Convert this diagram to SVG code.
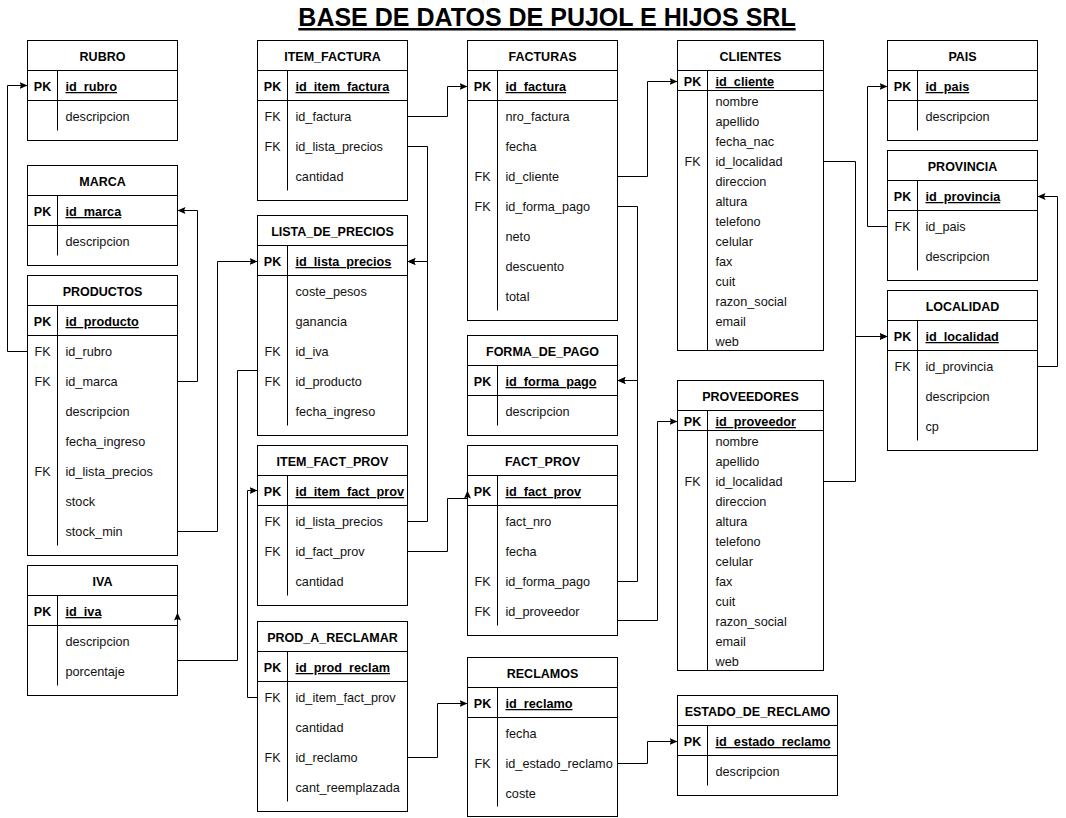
<svg xmlns="http://www.w3.org/2000/svg" width="1066" height="818" viewBox="0 0 1066 818">
<style>
.box{fill:#fff;stroke:#000;stroke-width:1}
.ln{stroke:#000;stroke-width:1;fill:none}
.c{fill:none;stroke:#000;stroke-width:1}
text{font-family:"Liberation Sans",Arial,sans-serif;fill:#000}
.h{font-size:12.5px;font-weight:bold;text-anchor:middle}
.k{font-size:12.5px;font-weight:bold;text-anchor:middle}
.f{font-size:12.5px;text-anchor:middle;fill:#111}
.p{font-size:12.7px;font-weight:bold;text-decoration:underline}
.a{font-size:12.7px;fill:#111}
.t{font-size:25px;font-weight:bold;text-anchor:middle;text-decoration:underline}
</style>
<defs>
<marker id="arr" markerWidth="9" markerHeight="8" refX="8" refY="4" orient="auto" markerUnits="userSpaceOnUse">
<path d="M0,0.5 L8,4 L0,7.5 L1.5,4 z" fill="#000"/>
</marker>
</defs>
<rect x="0" y="0" width="1066" height="818" fill="#fff"/>
<text class="t" x="547" y="26">BASE DE DATOS DE PUJOL E HIJOS SRL</text>
<g transform="translate(0.5 0)">

<g id="rubro">
<rect class="box" x="27" y="40.5" width="150" height="100"/>
<path class="ln" d="M27,70.5 H177 M27,100.5 H177 M57,70.5 V130.5"/>
<text class="h" x="102" y="61">RUBRO</text>
<text class="k" x="42" y="91">PK</text><text class="p" x="65" y="91">id_rubro</text>
<text class="a" x="65" y="121">descripcion</text>
</g>

<g id="marca">
<rect class="box" x="27" y="165.5" width="150" height="100"/>
<path class="ln" d="M27,195.5 H177 M27,225.5 H177 M57,195.5 V255.5"/>
<text class="h" x="102" y="186">MARCA</text>
<text class="k" x="42" y="216">PK</text><text class="p" x="65" y="216">id_marca</text>
<text class="a" x="65" y="246">descripcion</text>
</g>

<g id="productos">
<rect class="box" x="27" y="275.5" width="150" height="280"/>
<path class="ln" d="M27,305.5 H177 M27,335.5 H177 M57,305.5 V545.5"/>
<text class="h" x="102" y="296">PRODUCTOS</text>
<text class="k" x="42" y="326">PK</text><text class="p" x="65" y="326">id_producto</text>
<text class="f" x="42" y="356">FK</text><text class="a" x="65" y="356">id_rubro</text>
<text class="f" x="42" y="386">FK</text><text class="a" x="65" y="386">id_marca</text>
<text class="a" x="65" y="416">descripcion</text>
<text class="a" x="65" y="446">fecha_ingreso</text>
<text class="f" x="42" y="476">FK</text><text class="a" x="65" y="476">id_lista_precios</text>
<text class="a" x="65" y="506">stock</text>
<text class="a" x="65" y="536">stock_min</text>
</g>

<g id="iva">
<rect class="box" x="27" y="565.5" width="150" height="130"/>
<path class="ln" d="M27,595.5 H177 M27,625.5 H177 M57,595.5 V685.5"/>
<text class="h" x="102" y="586">IVA</text>
<text class="k" x="42" y="616">PK</text><text class="p" x="65" y="616">id_iva</text>
<text class="a" x="65" y="646">descripcion</text>
<text class="a" x="65" y="676">porcentaje</text>
</g>

<g id="item_factura">
<rect class="box" x="257" y="40.5" width="150" height="160"/>
<path class="ln" d="M257,70.5 H407 M257,100.5 H407 M287,70.5 V190.5"/>
<text class="h" x="332" y="61">ITEM_FACTURA</text>
<text class="k" x="272" y="91">PK</text><text class="p" x="295" y="91">id_item_factura</text>
<text class="f" x="272" y="121">FK</text><text class="a" x="295" y="121">id_factura</text>
<text class="f" x="272" y="151">FK</text><text class="a" x="295" y="151">id_lista_precios</text>
<text class="a" x="295" y="181">cantidad</text>
</g>

<g id="lista_de_precios">
<rect class="box" x="257" y="215.5" width="150" height="220"/>
<path class="ln" d="M257,245.5 H407 M257,275.5 H407 M287,245.5 V425.5"/>
<text class="h" x="332" y="236">LISTA_DE_PRECIOS</text>
<text class="k" x="272" y="266">PK</text><text class="p" x="295" y="266">id_lista_precios</text>
<text class="a" x="295" y="296">coste_pesos</text>
<text class="a" x="295" y="326">ganancia</text>
<text class="f" x="272" y="356">FK</text><text class="a" x="295" y="356">id_iva</text>
<text class="f" x="272" y="386">FK</text><text class="a" x="295" y="386">id_producto</text>
<text class="a" x="295" y="416">fecha_ingreso</text>
</g>

<g id="item_fact_prov">
<rect class="box" x="257" y="445.5" width="150" height="160"/>
<path class="ln" d="M257,475.5 H407 M257,505.5 H407 M287,475.5 V595.5"/>
<text class="h" x="332" y="466">ITEM_FACT_PROV</text>
<text class="k" x="272" y="496">PK</text><text class="p" x="295" y="496">id_item_fact_prov</text>
<text class="f" x="272" y="526">FK</text><text class="a" x="295" y="526">id_lista_precios</text>
<text class="f" x="272" y="556">FK</text><text class="a" x="295" y="556">id_fact_prov</text>
<text class="a" x="295" y="586">cantidad</text>
</g>

<g id="prod_a_reclamar">
<rect class="box" x="257" y="621.5" width="150" height="190"/>
<path class="ln" d="M257,651.5 H407 M257,681.5 H407 M287,651.5 V801.5"/>
<text class="h" x="332" y="642">PROD_A_RECLAMAR</text>
<text class="k" x="272" y="672">PK</text><text class="p" x="295" y="672">id_prod_reclam</text>
<text class="f" x="272" y="702">FK</text><text class="a" x="295" y="702">id_item_fact_prov</text>
<text class="a" x="295" y="732">cantidad</text>
<text class="f" x="272" y="762">FK</text><text class="a" x="295" y="762">id_reclamo</text>
<text class="a" x="295" y="792">cant_reemplazada</text>
</g>

<g id="facturas">
<rect class="box" x="467" y="40.5" width="150" height="280"/>
<path class="ln" d="M467,70.5 H617 M467,100.5 H617 M497,70.5 V310.5"/>
<text class="h" x="542" y="61">FACTURAS</text>
<text class="k" x="482" y="91">PK</text><text class="p" x="505" y="91">id_factura</text>
<text class="a" x="505" y="121">nro_factura</text>
<text class="a" x="505" y="151">fecha</text>
<text class="f" x="482" y="181">FK</text><text class="a" x="505" y="181">id_cliente</text>
<text class="f" x="482" y="211">FK</text><text class="a" x="505" y="211">id_forma_pago</text>
<text class="a" x="505" y="241">neto</text>
<text class="a" x="505" y="271">descuento</text>
<text class="a" x="505" y="301">total</text>
</g>

<g id="forma_de_pago">
<rect class="box" x="467" y="335.5" width="150" height="100"/>
<path class="ln" d="M467,365.5 H617 M467,395.5 H617 M497,365.5 V425.5"/>
<text class="h" x="542" y="356">FORMA_DE_PAGO</text>
<text class="k" x="482" y="386">PK</text><text class="p" x="505" y="386">id_forma_pago</text>
<text class="a" x="505" y="416">descripcion</text>
</g>

<g id="fact_prov">
<rect class="box" x="467" y="445.5" width="150" height="190"/>
<path class="ln" d="M467,475.5 H617 M467,505.5 H617 M497,475.5 V625.5"/>
<text class="h" x="542" y="466">FACT_PROV</text>
<text class="k" x="482" y="496">PK</text><text class="p" x="505" y="496">id_fact_prov</text>
<text class="a" x="505" y="526">fact_nro</text>
<text class="a" x="505" y="556">fecha</text>
<text class="f" x="482" y="586">FK</text><text class="a" x="505" y="586">id_forma_pago</text>
<text class="f" x="482" y="616">FK</text><text class="a" x="505" y="616">id_proveedor</text>
</g>

<g id="reclamos">
<rect class="box" x="467" y="657.5" width="150" height="159"/>
<path class="ln" d="M467,687.5 H617 M467,717.5 H617 M497,687.5 V806.5"/>
<text class="h" x="542" y="678">RECLAMOS</text>
<text class="k" x="482" y="708">PK</text><text class="p" x="505" y="708">id_reclamo</text>
<text class="a" x="505" y="738">fecha</text>
<text class="f" x="482" y="768">FK</text><text class="a" x="505" y="768">id_estado_reclamo</text>
<text class="a" x="505" y="798">coste</text>
</g>

<g id="clientes">
<rect class="box" x="677" y="40.5" width="146" height="310"/>
<path class="ln" d="M677,70.5 H823 M677,90.5 H823 M707,70.5 V350.5"/>
<text class="h" x="750" y="61">CLIENTES</text>
<text class="k" x="692" y="86">PK</text><text class="p" x="715" y="86">id_cliente</text>
<text class="a" x="715" y="105.5">nombre</text>
<text class="a" x="715" y="125.5">apellido</text>
<text class="a" x="715" y="145.5">fecha_nac</text>
<text class="f" x="692" y="165.5">FK</text><text class="a" x="715" y="165.5">id_localidad</text>
<text class="a" x="715" y="185.5">direccion</text>
<text class="a" x="715" y="205.5">altura</text>
<text class="a" x="715" y="225.5">telefono</text>
<text class="a" x="715" y="245.5">celular</text>
<text class="a" x="715" y="265.5">fax</text>
<text class="a" x="715" y="285.5">cuit</text>
<text class="a" x="715" y="305.5">razon_social</text>
<text class="a" x="715" y="325.5">email</text>
<text class="a" x="715" y="345.5">web</text>
</g>

<g id="proveedores">
<rect class="box" x="677" y="380.5" width="146" height="290"/>
<path class="ln" d="M677,410.5 H823 M677,430.5 H823 M707,410.5 V670.5"/>
<text class="h" x="750" y="401">PROVEEDORES</text>
<text class="k" x="692" y="426">PK</text><text class="p" x="715" y="426">id_proveedor</text>
<text class="a" x="715" y="445.5">nombre</text>
<text class="a" x="715" y="465.5">apellido</text>
<text class="f" x="692" y="485.5">FK</text><text class="a" x="715" y="485.5">id_localidad</text>
<text class="a" x="715" y="505.5">direccion</text>
<text class="a" x="715" y="525.5">altura</text>
<text class="a" x="715" y="545.5">telefono</text>
<text class="a" x="715" y="565.5">celular</text>
<text class="a" x="715" y="585.5">fax</text>
<text class="a" x="715" y="605.5">cuit</text>
<text class="a" x="715" y="625.5">razon_social</text>
<text class="a" x="715" y="645.5">email</text>
<text class="a" x="715" y="665.5">web</text>
</g>

<g id="estado_de_reclamo">
<rect class="box" x="677" y="695.5" width="160" height="100"/>
<path class="ln" d="M677,725.5 H837 M677,755.5 H837 M707,725.5 V785.5"/>
<text class="h" x="757" y="716">ESTADO_DE_RECLAMO</text>
<text class="k" x="692" y="746">PK</text><text class="p" x="715" y="746">id_estado_reclamo</text>
<text class="a" x="715" y="776">descripcion</text>
</g>

<g id="pais">
<rect class="box" x="887" y="40.5" width="150" height="100"/>
<path class="ln" d="M887,70.5 H1037 M887,100.5 H1037 M917,70.5 V130.5"/>
<text class="h" x="962" y="61">PAIS</text>
<text class="k" x="902" y="91">PK</text><text class="p" x="925" y="91">id_pais</text>
<text class="a" x="925" y="121">descripcion</text>
</g>

<g id="provincia">
<rect class="box" x="887" y="150.5" width="150" height="130"/>
<path class="ln" d="M887,180.5 H1037 M887,210.5 H1037 M917,180.5 V270.5"/>
<text class="h" x="962" y="171">PROVINCIA</text>
<text class="k" x="902" y="201">PK</text><text class="p" x="925" y="201">id_provincia</text>
<text class="f" x="902" y="231">FK</text><text class="a" x="925" y="231">id_pais</text>
<text class="a" x="925" y="261">descripcion</text>
</g>

<g id="localidad">
<rect class="box" x="887" y="290.5" width="150" height="160"/>
<path class="ln" d="M887,320.5 H1037 M887,350.5 H1037 M917,320.5 V440.5"/>
<text class="h" x="962" y="311">LOCALIDAD</text>
<text class="k" x="902" y="341">PK</text><text class="p" x="925" y="341">id_localidad</text>
<text class="f" x="902" y="371">FK</text><text class="a" x="925" y="371">id_provincia</text>
<text class="a" x="925" y="401">descripcion</text>
<text class="a" x="925" y="431">cp</text>
</g>

<g id="connectors" transform="translate(0 0.5)">
<path class="c" marker-end="url(#arr)" d="M27,351 H7 V85 H27"/>
<path class="c" marker-end="url(#arr)" d="M177,381 H197 V210 H177"/>
<path class="c" marker-end="url(#arr)" d="M177,531 H217 V261 H257"/>
<path class="c" marker-end="url(#arr)" d="M257,370 H237 V660 H177 V612"/>
<path class="c" marker-end="url(#arr)" d="M407,116 H447 V86 H467"/>
<path class="c" marker-end="url(#arr)" d="M407,146 H427 V261 H407"/>
<path class="c" marker-end="url(#arr)" d="M407,521 H427 V261 H407"/>
<path class="c" marker-end="url(#arr)" d="M407,551 H447 V498 H467 V490"/>
<path class="c" marker-end="url(#arr)" d="M257,697 H247 V490 H257"/>
<path class="c" marker-end="url(#arr)" d="M407,757 H437 V703 H467"/>
<path class="c" marker-end="url(#arr)" d="M617,176 H647 V81 H677"/>
<path class="c" marker-end="url(#arr)" d="M617,206 H637 V380 H617"/>
<path class="c" marker-end="url(#arr)" d="M617,581 H637 V380 H617"/>
<path class="c" marker-end="url(#arr)" d="M617,620 H657 V421 H677"/>
<path class="c" marker-end="url(#arr)" d="M823,161 H855 V336 H887"/>
<path class="c" marker-end="url(#arr)" d="M823,481 H855 V336 H887"/>
<path class="c" marker-end="url(#arr)" d="M887,226 H867 V86 H887"/>
<path class="c" marker-end="url(#arr)" d="M1037,366 H1057 V196 H1037"/>
<path class="c" marker-end="url(#arr)" d="M617,763 H647 V741 H677"/>
</g>
</g>
</svg>
